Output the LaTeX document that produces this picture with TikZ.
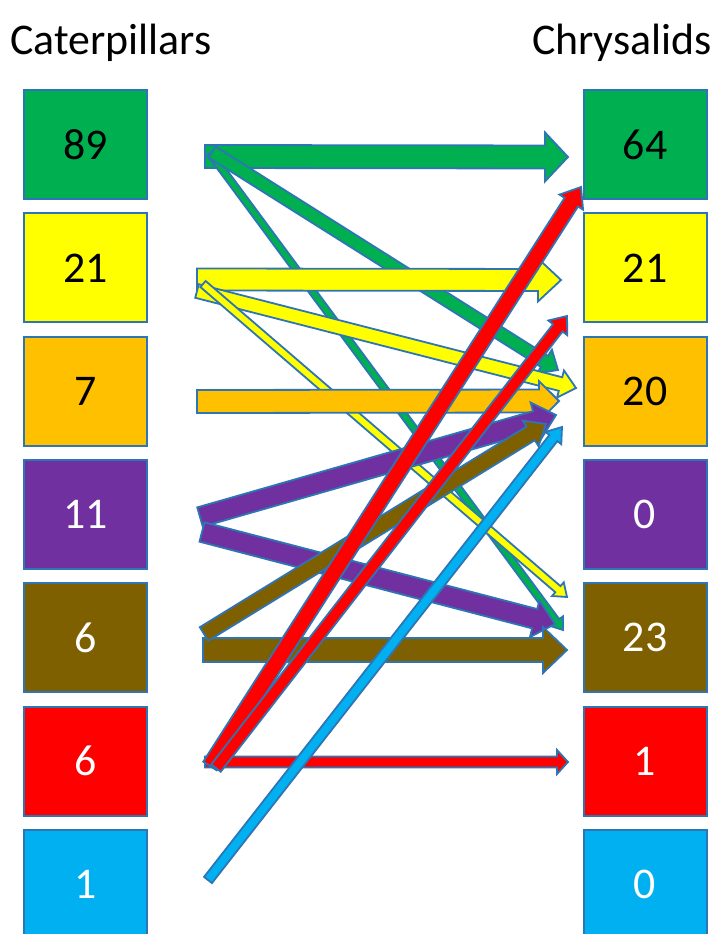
\documentclass[tikz,border=0pt]{standalone}
\usepackage{fontspec}
\setmainfont{Carlito}
\usetikzlibrary{calc}
\definecolor{outl}{RGB}{46,117,182}
\definecolor{cgreen}{RGB}{0,176,80}
\definecolor{cyellow}{RGB}{255,255,0}
\definecolor{corange}{RGB}{255,192,0}
\definecolor{cpurple}{RGB}{112,48,160}
\definecolor{cbrown}{RGB}{127,96,0}
\definecolor{cred}{RGB}{255,0,0}
\definecolor{cblue}{RGB}{0,176,240}
% block arrow: colour, from, to, shaft half width, head half width, head length
\newcommand\blockarr[6]{%
  \coordinate (hb) at ($(#3)!#6bp!(#2)$);
  \filldraw[arrowline, fill=#1]
    ($(#2)!#4bp!90:(#3)$) -- ($(hb)!#4bp!90:(#3)$) -- ($(hb)!#5bp!90:(#3)$) -- (#3)
    -- ($(hb)!#5bp!-90:(#3)$) -- ($(hb)!#4bp!-90:(#3)$) -- ($(#2)!#4bp!-90:(#3)$) -- cycle;
}
\begin{document}
\begin{tikzpicture}[x=1bp,y=-1bp,
  box/.style={draw=outl, line width=2bp, minimum width=123bp, minimum height=109bp,
    inner sep=0pt, font=\fontsize{44}{50}\selectfont},
  arrowline/.style={draw=outl, line width=1.8bp, line join=miter},
  title/.style={inner sep=0pt, font=\fontsize{44}{50}\selectfont}]
\clip (0,0) rectangle (717,934);
\fill[white] (0,0) rectangle (717,934);

\node[title, anchor=base west] (tl) at (10,54) {Caterpillars};
\node[title, anchor=base east] (tr) at (712,54) {Chrysalids};

% left boxes
\node[box, fill=cgreen, text=black] (l1) at (85.5,144.5) {89};
\node[box, fill=cyellow, text=black] (l2) at (85.5,267.8) {21};
\node[box, fill=corange, text=black] (l3) at (85.5,391.2) {7};
\node[box, fill=cpurple, text=white] (l4) at (85.5,514.5) {11};
\node[box, fill=cbrown, text=white] (l5) at (85.5,637.8) {6};
\node[box, fill=cred, text=white] (l6) at (85.5,761.2) {6};
\node[box, fill=cblue, text=white] (l7) at (85.5,884.5) {1};
% right boxes
\node[box, fill=cgreen, text=black] (r1) at (645,144.5) {64};
\node[box, fill=cyellow, text=black] (r2) at (645,267.8) {21};
\node[box, fill=corange, text=black] (r3) at (645,391.2) {20};
\node[box, fill=cpurple, text=white] (r4) at (645,514.5) {0};
\node[box, fill=cbrown, text=white] (r5) at (645,637.8) {23};
\node[box, fill=cred, text=white] (r6) at (645,761.2) {1};
\node[box, fill=cblue, text=white] (r7) at (645,884.5) {0};

% arrow end points
\coordinate (g1s) at (205,156.5); \coordinate (g1e) at (568,157);
\coordinate (g2s) at (212,152);   \coordinate (g2e) at (558,370);
\coordinate (g3s) at (210,153);   \coordinate (g3e) at (563,630);
\coordinate (y1s) at (197,279.5); \coordinate (y1e) at (561,280);
\coordinate (y2s) at (197,291);   \coordinate (y2e) at (576,388);
\coordinate (y3s) at (203,284);   \coordinate (y3e) at (567,597);
\coordinate (o1s) at (197,401.5); \coordinate (o1e) at (559,401);
\coordinate (p1s) at (200,517);   \coordinate (p1e) at (556,415);
\coordinate (p2s) at (202,532);   \coordinate (p2e) at (555,624);
\coordinate (b1s) at (203,650);   \coordinate (b1e) at (567,650);
\coordinate (b2s) at (204,634);   \coordinate (b2e) at (546,424);
\coordinate (d1s) at (205,762);   \coordinate (d1e) at (568,762);
\coordinate (d2s) at (210,766);   \coordinate (d2e) at (581,187);
\coordinate (d3s) at (216,768);   \coordinate (d3e) at (567,316);
\coordinate (c1s) at (208,880);   \coordinate (c1e) at (562,427);

\blockarr{cgreen}{g1s}{g1e}{11.5}{24.5}{23}
\blockarr{cgreen}{g3s}{g3e}{3.5}{8}{11}
\blockarr{cgreen}{g2s}{g2e}{6.5}{14}{16}
\blockarr{cyellow}{y1s}{y1e}{11}{21.5}{23}
\blockarr{cyellow}{y2s}{y2e}{7}{14}{16}
\blockarr{cyellow}{y3s}{y3e}{4}{9}{12}
\blockarr{corange}{o1s}{o1e}{11.5}{20}{20}
\blockarr{cpurple}{p1s}{p1e}{10}{19}{21}
\blockarr{cpurple}{p2s}{p2e}{10}{19}{21}
\blockarr{cbrown}{b1s}{b1e}{12}{23}{24}
\blockarr{cbrown}{b2s}{b2e}{8}{15}{18}
\blockarr{cred}{d1s}{d1e}{5.5}{12}{11}
\blockarr{cred}{d2s}{d2e}{8}{14}{18}
\blockarr{cred}{d3s}{d3e}{6}{12}{15}
\blockarr{cblue}{c1s}{c1e}{5}{10}{14}
\end{tikzpicture}
\end{document}
